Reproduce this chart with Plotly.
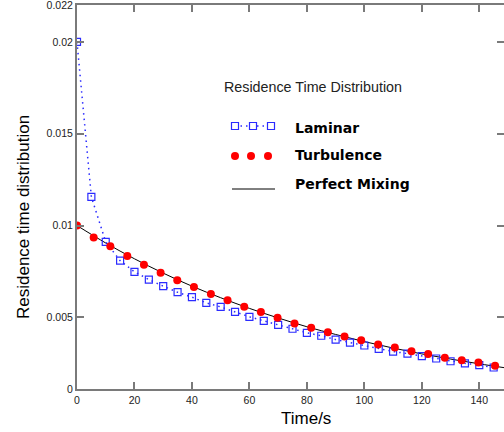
import plotly.graph_objects as go

# ---- data ----
laminar_t = [0, 5, 10, 15, 20, 25, 30, 35, 40, 45, 50, 55, 60, 65, 70, 75, 80, 85,
             90, 95, 100, 105, 110, 115, 120, 125, 130, 135, 140, 145]
laminar_e = [0.0200, 0.01156, 0.00911, 0.00809, 0.00748, 0.00706, 0.00670, 0.00637,
             0.00610, 0.00579, 0.00557, 0.00530, 0.00503, 0.00481, 0.00459, 0.00438,
             0.00416, 0.00400, 0.00379, 0.00363, 0.00347, 0.00329, 0.00314, 0.00303,
             0.00289, 0.00276, 0.00261, 0.00250, 0.00240, 0.00227]

turb_t = [0, 5.8, 11.6, 17.5, 23.3, 29.1, 34.9, 40.7, 46.6, 52.4, 58.2, 64.0, 69.8,
          75.7, 81.5, 87.3, 93.1, 98.9, 104.8, 110.6, 116.4, 122.2, 128.0, 133.9,
          139.7, 145.5]
turb_e = [0.0100, 0.00935, 0.00887, 0.00834, 0.00787, 0.00743, 0.00702, 0.00665,
          0.00627, 0.00593, 0.00558, 0.00529, 0.00498, 0.00466, 0.00443, 0.00419,
          0.00396, 0.00375, 0.00352, 0.00336, 0.00316, 0.00300, 0.00280, 0.00267,
          0.00254, 0.00236]

mix_t = [0, 10, 20, 30, 40, 50, 60, 70, 80, 90, 100, 110, 120, 130, 140, 150]
mix_e = [0.0100, 0.00905, 0.00819, 0.00741, 0.00670, 0.00607, 0.00549, 0.00497,
         0.00449, 0.00407, 0.00368, 0.00333, 0.00301, 0.00273, 0.00247, 0.00223]

x_ticks = [0, 20, 40, 60, 80, 100, 120, 140]
y_ticks = [0.0011, 0.005, 0.01, 0.015, 0.02, 0.0220]
y_ticktext = ["0", "0.005", "0.01", "0.015", "0.02", "0.022"]

legend_title = "Residence Time Distribution"
legend_names = ["Laminar", "Turbulence", "Perfect Mixing"]

BLUE = "#2b2bff"
RED = "#ff0000"
AXIS = "#7a7a7a"
TICKFONT = dict(family="Liberation Sans Narrow, Arial Narrow, Liberation Sans, Arial",
                size=10.5, color="#222222")

W, H = 504, 432
L, R, T, B = 77, 0, 5, 43
PW, PH = W - L - R, H - T - B


def px(xp):
    return (xp - L) / PW


def py(yp):
    return (H - B - yp) / PH


fig = go.Figure()
fig.add_trace(go.Scatter(x=mix_t, y=mix_e, mode="lines", name=legend_names[2],
                         line=dict(color="black", width=1, shape="spline"),
                         showlegend=False))
fig.add_trace(go.Scatter(x=laminar_t, y=laminar_e, mode="lines+markers",
                         name=legend_names[0],
                         line=dict(color=BLUE, width=1.5, dash="1.5px,4px"),
                         marker=dict(symbol="square-open", size=7,
                                     color=BLUE, line=dict(width=1.2, color=BLUE)),
                         showlegend=False))
fig.add_trace(go.Scatter(x=turb_t, y=turb_e, mode="markers", name=legend_names[1],
                         marker=dict(symbol="circle", size=8, color=RED),
                         showlegend=False))

# ---- hand-drawn legend ----
shapes = []
annotations = []
annotations.append(dict(text=legend_title, xref="paper", yref="paper",
                        x=px(222), y=py(87), xanchor="left", yanchor="middle",
                        showarrow=False,
                        font=dict(family="Liberation Sans, Arial", size=14.3,
                                  color="#222222")))
# Laminar sample
shapes.append(dict(type="line", xref="paper", yref="paper",
                   x0=px(235), x1=px(271), y0=py(126), y1=py(126),
                   line=dict(color=BLUE, width=1.5, dash="1.5px,4px")))
for cx in (235, 253, 271):
    shapes.append(dict(type="rect", xref="paper", yref="paper",
                       xsizemode="pixel", ysizemode="pixel",
                       xanchor=px(cx), yanchor=py(126),
                       x0=-3.5, x1=3.5, y0=-3.5, y1=3.5,
                       line=dict(color=BLUE, width=1.2), fillcolor="white"))
# Turbulence sample
for cx in (235, 251, 268):
    shapes.append(dict(type="circle", xref="paper", yref="paper",
                       xsizemode="pixel", ysizemode="pixel",
                       xanchor=px(cx), yanchor=py(156),
                       x0=-4, x1=4, y0=-4, y1=4,
                       line=dict(color=RED, width=0), fillcolor=RED))
# Perfect mixing sample
shapes.append(dict(type="line", xref="paper", yref="paper",
                   x0=px(232), x1=px(275), y0=py(189), y1=py(189),
                   line=dict(color="black", width=1)))

for name, yy in zip(legend_names, (128, 155, 184)):
    annotations.append(dict(text="<b>" + name + "</b>", xref="paper", yref="paper",
                            x=px(293), y=py(yy), xanchor="left", yanchor="middle",
                            showarrow=False,
                            font=dict(family="DejaVu Sans, Verdana", size=14,
                                      color="black")))

# axis titles
annotations.append(dict(text="Time/s", xref="paper", yref="paper",
                        x=px(306), y=py(418), xanchor="center", yanchor="middle",
                        showarrow=False,
                        font=dict(family="Liberation Sans, Arial", size=17,
                                  color="black")))
annotations.append(dict(text="Residence time distribution", xref="paper",
                        yref="paper", x=px(24), y=py(217), xanchor="center",
                        yanchor="middle", textangle=-90, showarrow=False,
                        font=dict(family="Liberation Sans, Arial", size=17,
                                  color="black")))

fig.update_layout(
    width=W, height=H,
    margin=dict(l=L, r=R, t=T, b=B, autoexpand=False),
    paper_bgcolor="white", plot_bgcolor="white",
    shapes=shapes, annotations=annotations,
    showlegend=False,
)
fig.update_xaxes(range=[0, 148.6], tickvals=x_ticks, ticks="inside", ticklen=7,
                 tickcolor=AXIS, tickwidth=1.5, showline=True, linecolor=AXIS,
                 linewidth=2, mirror="ticks", showgrid=False, zeroline=False,
                 tickfont=TICKFONT, automargin=False, ticklabeloverflow="allow")
fig.update_yaxes(range=[0.0011, 0.02201], tickvals=y_ticks, ticktext=y_ticktext,
                 ticks="inside", ticklen=7, tickcolor=AXIS, tickwidth=1.5,
                 showline=True, linecolor=AXIS, linewidth=2, mirror="ticks",
                 showgrid=False, zeroline=False, tickfont=TICKFONT,
                 automargin=False, ticklabeloverflow="allow")

fig.write_html("out.html",
               config={"displayModeBar": False},
               post_script="document.body.style.margin='0';"
                           "document.body.style.overflow='hidden';")
